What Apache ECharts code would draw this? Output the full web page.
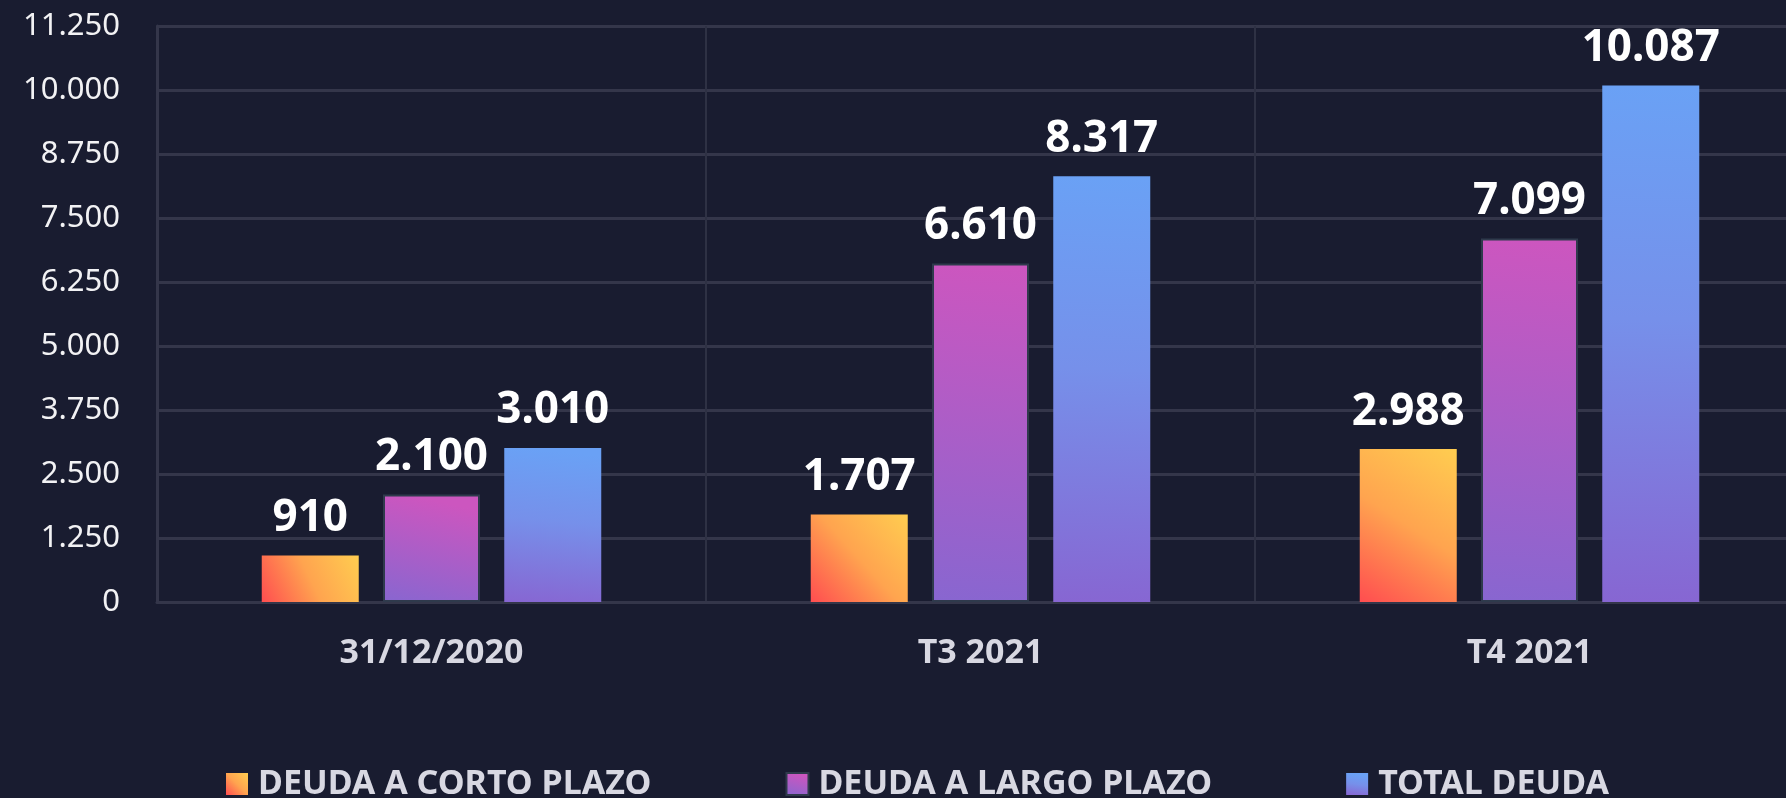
<!DOCTYPE html>
<html>
<head>
<meta charset="utf-8">
<script src="https://cdn.jsdelivr.net/npm/echarts@6/dist/echarts.min.js"></script>
<style>
html,body{margin:0;padding:0;background:#191c30;}
#c{width:1786px;height:798px;}
</style>
</head>
<body>
<div id="c"></div>
<script>
const categories = ['31/12/2020', 'T3 2021', 'T4 2021'];
const seriesNames = ['DEUDA A CORTO PLAZO', 'DEUDA A LARGO PLAZO', 'TOTAL DEUDA'];
const cortoPlazo = [910, 1707, 2988];
const largoPlazo = [2100, 6610, 7099];
const totalDeuda = [3010, 8317, 10087];
const yMin = 0, yMax = 11250, yInterval = 1250;

function fmt(v) {
  return String(Math.round(v)).replace(/\B(?=(\d{3})+(?!\d))/g, '.');
}
const FONT = '"Noto Sans", sans-serif';
const G = echarts.graphic.LinearGradient;

const labelCfg = {
  show: true, position: 'top', distance: 15,
  color: '#ffffff', fontFamily: FONT, fontWeight: 'bold', fontSize: 44,
  formatter: p => fmt(p.value)
};

const chart = echarts.init(document.getElementById('c'));
chart.setOption({
  backgroundColor: '#191c30',
  animation: false,
  grid: { left: 157, top: 26, bottom: 196, width: 1647, outerBoundsMode: 'none', containLabel: false },
  legend: {
    left: 221, top: 762, itemWidth: 22, itemHeight: 22, itemGap: 134, icon: 'rect',
    textStyle: { color: '#d8d8e2', fontFamily: FONT, fontWeight: 'bold', fontSize: 34, padding: [0,0,0,5] },
    data: seriesNames
  },
  xAxis: {
    type: 'category', data: categories,
    axisLine: { show: true, lineStyle: { color: '#34364a', width: 3 } },
    axisTick: { show: false },
    splitLine: { show: true, lineStyle: { color: '#2e3144', width: 2 } },
    axisLabel: { color: '#d8d8e2', fontFamily: FONT, fontWeight: 'bold', fontSize: 34, margin: 34 }
  },
  yAxis: {
    type: 'value', min: yMin, max: yMax, interval: yInterval,
    axisLine: { show: true, lineStyle: { color: '#34364a', width: 3 } },
    axisTick: { show: false },
    splitLine: { show: true, lineStyle: { color: '#34364a', width: 3 } },
    axisLabel: { color: '#f2f2f4', fontFamily: FONT, fontSize: 31, margin: 37, formatter: v => fmt(v) }
  },
  series: [
    {
      name: seriesNames[0], type: 'bar', data: cortoPlazo, barWidth: 97, barGap: '25%',
      itemStyle: { color: new G(0, 1, 1, 0, [{offset: 0, color: '#ff4d50'}, {offset: 0.5, color: '#ffa44f'}, {offset: 1, color: '#ffcd50'}]) },
      label: labelCfg
    },
    {
      name: seriesNames[1], type: 'bar', data: largoPlazo, barWidth: 97, barGap: '25%',
      itemStyle: {
        color: new G(0, 1, 0.25, 0, [{offset: 0, color: '#8866d0'}, {offset: 1, color: '#cc56bf'}]),
        borderColor: '#2f3a4c', borderWidth: 2
      },
      label: labelCfg
    },
    {
      name: seriesNames[2], type: 'bar', data: totalDeuda, barWidth: 97, barGap: '25%',
      itemStyle: { color: new G(0, 1, 0.15, 0, [{offset: 0, color: '#8766d2'}, {offset: 0.55, color: '#7690ea'}, {offset: 1, color: '#6aa1f5'}]) },
      label: labelCfg
    }
  ]
});
</script>
</body>
</html>
